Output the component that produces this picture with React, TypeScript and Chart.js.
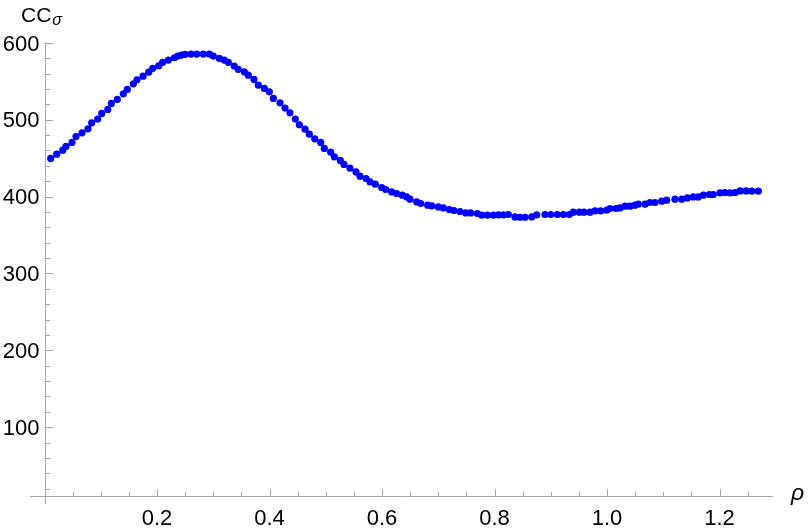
import { useEffect, useRef } from "react";
import { Chart, registerables } from "chart.js";

Chart.register(...registerables);

// ρ values of the sampled points
const rho = [
  0.011, 0.0217, 0.0324, 0.0382, 0.0489, 0.056, 0.0667, 0.0773, 0.0839, 0.0946,
  0.1017, 0.1124, 0.1188, 0.1294, 0.1401, 0.1472, 0.1579, 0.1644, 0.1751, 0.1852,
  0.1924, 0.203, 0.2101, 0.2201, 0.2308, 0.2368, 0.2432, 0.2498, 0.2604, 0.2706,
  0.2823, 0.293, 0.3001, 0.3108, 0.3196, 0.3268, 0.3374, 0.3445, 0.3552, 0.3623,
  0.3724, 0.3801, 0.3908, 0.3996, 0.4068, 0.4187, 0.4276, 0.4364, 0.4459, 0.453,
  0.4631, 0.4708, 0.4804, 0.491, 0.4974, 0.5088, 0.5152, 0.5259, 0.5324, 0.5431,
  0.5538, 0.5609, 0.5716, 0.5787, 0.5881, 0.5995, 0.6066, 0.6172, 0.6261, 0.6361,
  0.6439, 0.6498, 0.6617, 0.6688, 0.6812, 0.6884, 0.7001, 0.709, 0.7196, 0.728,
  0.7387, 0.7488, 0.7577, 0.7694, 0.7772, 0.7872, 0.7979, 0.8068, 0.8156, 0.8245,
  0.8364, 0.8453, 0.8542, 0.8661, 0.875, 0.8898, 0.8999, 0.9116, 0.9223, 0.933,
  0.9401, 0.9508, 0.9591, 0.9698, 0.9787, 0.9888, 0.9995, 1.0053, 1.016, 1.0231,
  1.032, 1.0409, 1.0498, 1.0556, 1.0676, 1.0764, 1.0853, 1.0972, 1.1061, 1.1209,
  1.1328, 1.1428, 1.1534, 1.1623, 1.1712, 1.1819, 1.189, 1.2009, 1.2098, 1.2187,
  1.2276, 1.2364, 1.2471, 1.2572, 1.269,
];

// CC_σ values
const ccSigma = [
  449.5, 455.1, 460.3, 465.1, 470.3, 478.1, 482.8, 488.0, 495.8, 500.7,
  508.1, 513.3, 521.1, 526.3, 533.6, 539.3, 546.6, 551.8, 556.6, 561.8,
  566.7, 570.1, 574.5, 577.5, 580.5, 582.7, 584.0, 584.9, 585.3, 585.3,
  585.3, 585.3, 582.7, 579.7, 577.5, 574.5, 569.7, 565.4, 562.2, 557.9,
  552.3, 544.9, 540.6, 536.2, 527.6, 521.9, 515.0, 508.9, 500.7, 493.2,
  487.6, 481.1, 475.0, 470.3, 462.5, 457.7, 451.6, 446.9, 441.7, 436.8,
  432.0, 426.4, 423.4, 419.0, 416.0, 411.7, 409.1, 406.0, 403.9, 401.7,
  399.5, 396.5, 393.0, 390.9, 388.7, 387.8, 386.5, 385.2, 383.1, 381.8,
  380.5, 378.6, 378.6, 377.9, 375.7, 375.7, 375.7, 376.0, 376.0, 376.6,
  373.4, 373.0, 373.0, 373.4, 376.0, 376.6, 376.6, 376.6, 376.6, 376.6,
  379.6, 379.6, 379.6, 379.6, 381.3, 381.3, 382.2, 384.4, 384.4, 385.2,
  387.4, 387.4, 388.7, 390.0, 390.0, 392.2, 392.2, 393.9, 395.2, 396.5,
  396.5, 398.2, 399.5, 399.5, 401.7, 402.6, 402.6, 404.7, 405.2, 404.7,
  405.2, 407.3, 407.3, 406.9, 406.9,
];

const xMajorTicks = [0.2, 0.4, 0.6, 0.8, 1.0, 1.2];
const xTickLabels = ["0.2", "0.4", "0.6", "0.8", "1.0", "1.2"];
const xMinorTicks = [
  0.05, 0.1, 0.15, 0.25, 0.3, 0.35, 0.45, 0.5, 0.55, 0.65, 0.7, 0.75,
  0.85, 0.9, 0.95, 1.05, 1.1, 1.15, 1.25,
];
const yMajorTicks = [100, 200, 300, 400, 500, 600];
const yTickLabels = ["100", "200", "300", "400", "500", "600"];
const yMinorTicks = [
  20, 40, 60, 80, 120, 140, 160, 180, 220, 240, 260, 280, 320, 340, 360, 380,
  420, 440, 460, 480, 520, 540, 560, 580,
];

const X_MIN = -0.0258;
const X_MAX = 1.2951;
const Y_MIN = 0;
const Y_MAX = 601;
const X_AXIS_AT = 10; // CC value where the horizontal axis sits
const Y_AXIS_AT = 0; // ρ value where the vertical axis sits

const AXIS_COLOR = "#a6a6a6";
const POINT_COLOR = "#0000ff";
const FONT = '"Liberation Sans", Arial, sans-serif';

const axesPlugin = {
  id: "mmaAxes",
  beforeDatasetsDraw(chart: any) {
    const { ctx, scales } = chart;
    const xs = scales.x;
    const ys = scales.y;
    const ax = Math.round(xs.getPixelForValue(Y_AXIS_AT)) + 0.5;
    const ay = Math.round(ys.getPixelForValue(X_AXIS_AT)) + 0.5;
    ctx.save();
    ctx.strokeStyle = AXIS_COLOR;
    ctx.lineWidth = 1;
    ctx.beginPath();
    // horizontal axis
    ctx.moveTo(xs.left, ay);
    ctx.lineTo(xs.right, ay);
    // vertical axis
    ctx.moveTo(ax, ys.bottom);
    ctx.lineTo(ax, ys.top);
    // x ticks (pointing up)
    xMajorTicks.forEach((v) => {
      const px = Math.round(xs.getPixelForValue(v)) + 0.5;
      ctx.moveTo(px, ay);
      ctx.lineTo(px, ay - 7.5);
    });
    xMinorTicks.forEach((v) => {
      const px = Math.round(xs.getPixelForValue(v)) + 0.5;
      ctx.moveTo(px, ay);
      ctx.lineTo(px, ay - 4.5);
    });
    // y ticks (pointing right)
    yMajorTicks.forEach((v) => {
      const py = Math.round(ys.getPixelForValue(v)) + 0.5;
      ctx.moveTo(ax, py);
      ctx.lineTo(ax + 7.5, py);
    });
    yMinorTicks.forEach((v) => {
      const py = Math.round(ys.getPixelForValue(v)) + 0.5;
      ctx.moveTo(ax, py);
      ctx.lineTo(ax + 4.5, py);
    });
    ctx.stroke();

    // tick labels
    ctx.fillStyle = "#000";
    ctx.font = `22px ${FONT}`;
    ctx.textBaseline = "alphabetic";
    ctx.textAlign = "center";
    xMajorTicks.forEach((v, i) => {
      ctx.fillText(xTickLabels[i], xs.getPixelForValue(v), ay + 28);
    });
    ctx.textAlign = "right";
    yMajorTicks.forEach((v, i) => {
      ctx.fillText(yTickLabels[i], ax - 6, ys.getPixelForValue(v) + 7.8);
    });

    // axis labels
    ctx.textAlign = "left";
    ctx.font = `21px ${FONT}`;
    ctx.fillText("CC", 21, 22);
    const ccW = ctx.measureText("CC").width;
    ctx.font = `italic 16px ${FONT}`;
    ctx.fillText("σ", 21 + ccW + 1, 25);
    ctx.font = `italic 23px ${FONT}`;
    ctx.fillText("ρ", 791, 500);
    ctx.restore();
  },
};

export default function App() {
  const canvasRef = useRef<HTMLCanvasElement | null>(null);

  useEffect(() => {
    const canvas = canvasRef.current;
    if (!canvas) return;
    const chart = new Chart(canvas, {
      type: "scatter",
      data: {
        datasets: [
          {
            data: rho.map((r, i) => ({ x: r, y: ccSigma[i] })),
            backgroundColor: POINT_COLOR,
            borderColor: POINT_COLOR,
            borderWidth: 0,
            pointRadius: 3.6,
            pointHoverRadius: 3.6,
          },
        ],
      },
      options: {
        animation: false,
        responsive: false,
        devicePixelRatio: 1,
        layout: { padding: { left: 30, right: 35, top: 42, bottom: 28 } },
        scales: {
          x: { type: "linear", min: X_MIN, max: X_MAX, display: false },
          y: { type: "linear", min: Y_MIN, max: Y_MAX, display: false },
        },
        plugins: {
          legend: { display: false },
          tooltip: { enabled: false },
        },
      },
      plugins: [axesPlugin],
    });
    return () => chart.destroy();
  }, []);

  return (
    <div
      style={{
        position: "fixed",
        left: 0,
        top: 0,
        width: 808,
        height: 532,
        background: "#fff",
      }}
    >
      <canvas
        ref={canvasRef}
        width={808}
        height={532}
        style={{ display: "block", width: 808, height: 532 }}
      />
    </div>
  );
}
